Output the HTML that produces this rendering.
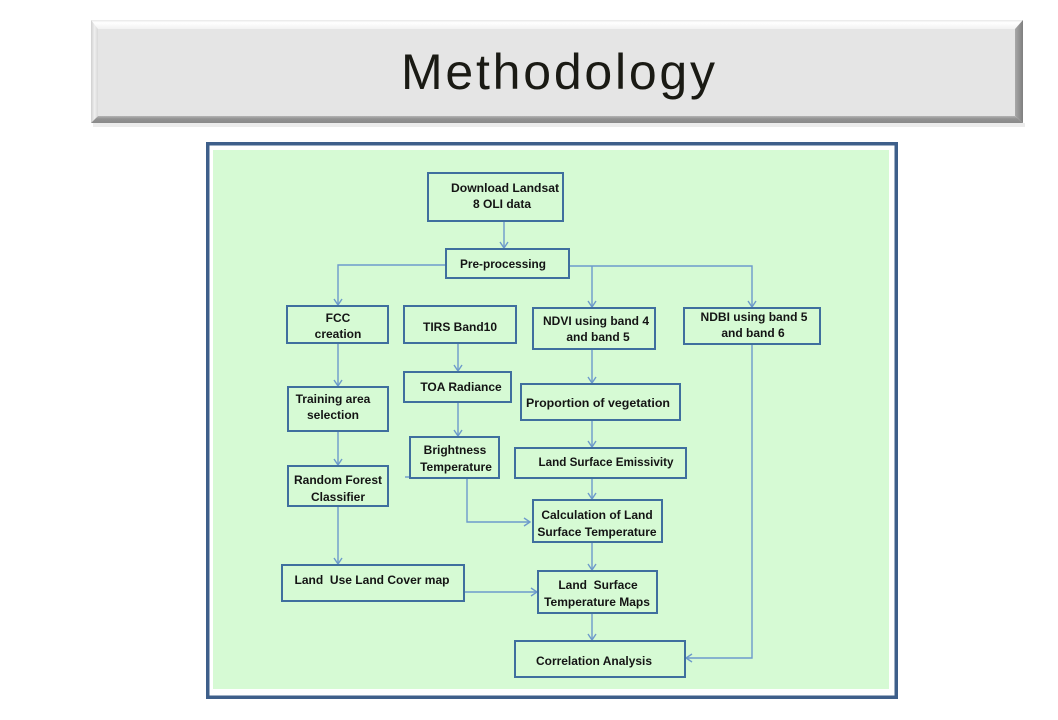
<!DOCTYPE html>
<html>
<head>
<meta charset="utf-8">
<style>
  html, body { margin:0; padding:0; background:#ffffff; }
  body { width:1058px; height:720px; overflow:hidden; }
  svg { display:block; }
  .bx { fill:#d6fad4; stroke:#3f6f9e; stroke-width:2; }
  .cn { fill:none; stroke:#6d9acb; stroke-width:1.4; }
  .t { font-family:"Liberation Sans", Arial, sans-serif; font-weight:bold; font-size:12px; fill:#141414; text-anchor:middle; white-space:pre; }
</style>
</head>
<body>
<svg width="1058" height="720" viewBox="0 0 1058 720" xmlns="http://www.w3.org/2000/svg">
  <defs>
    <linearGradient id="topb" x1="0" y1="0" x2="0" y2="1">
      <stop offset="0" stop-color="#e8e8e8"/>
      <stop offset="0.3" stop-color="#ffffff"/>
      <stop offset="1" stop-color="#f2f2f2"/>
    </linearGradient>
    <linearGradient id="leftb" x1="0" y1="0" x2="1" y2="0">
      <stop offset="0" stop-color="#cfcfcf"/>
      <stop offset="0.5" stop-color="#f0f0f0"/>
      <stop offset="1" stop-color="#d8d8d8"/>
    </linearGradient>
    <linearGradient id="botb" x1="0" y1="0" x2="0" y2="1">
      <stop offset="0" stop-color="#b5b5b5"/>
      <stop offset="0.4" stop-color="#929292"/>
      <stop offset="1" stop-color="#8a8a8a"/>
    </linearGradient>
    <linearGradient id="rightb" x1="0" y1="0" x2="1" y2="0">
      <stop offset="0" stop-color="#a8a8a8"/>
      <stop offset="1" stop-color="#7f7f7f"/>
    </linearGradient>
  </defs>

  <!-- Title bar -->
  <rect x="93" y="123" width="932" height="4" fill="#ececec"/>
  <polygon points="91,20 1023,20 1015,29 98,29" fill="url(#topb)"/>
  <polygon points="91,20 98,29 98,116 91,123" fill="url(#leftb)"/>
  <polygon points="1023,20 1023,123 1015,116 1015,29" fill="url(#rightb)"/>
  <polygon points="91,123 1023,123 1015,116 98,116" fill="url(#botb)"/>
  <rect x="98" y="29" width="917" height="87" fill="#e5e5e5"/>
  <text x="401" y="89" font-family="Liberation Sans, Arial, sans-serif" font-size="50" fill="#1a1a14" textLength="314" lengthAdjust="spacing">Methodology</text>

  <!-- Frame -->
  <rect x="207.75" y="143.75" width="688.5" height="553.5" fill="#ffffff" stroke="#3e5f8a" stroke-width="3.5"/>
  <rect x="213" y="150" width="676" height="539" fill="#d6fad4"/>

  <!-- Connectors -->
  <path class="cn" d="M504,221 V248"/>
  <polyline class="cn" points="500,242 504,248 508,242"/>

  <path class="cn" d="M446,265 H338 V305"/>
  <polyline class="cn" points="334,299 338,305 342,299"/>

  <path class="cn" d="M569,266 H752 V307"/>
  <polyline class="cn" points="748,301 752,307 756,301"/>
  <path class="cn" d="M592,266 V307"/>
  <polyline class="cn" points="588,301 592,307 596,301"/>

  <path class="cn" d="M338,343 V386"/>
  <polyline class="cn" points="334,380 338,386 342,380"/>
  <path class="cn" d="M338,431 V465"/>
  <polyline class="cn" points="334,459 338,465 342,459"/>
  <path class="cn" d="M338,506 V564"/>
  <polyline class="cn" points="334,558 338,564 342,558"/>

  <path class="cn" d="M458,343 V371"/>
  <polyline class="cn" points="454,365 458,371 462,365"/>
  <path class="cn" d="M458,402 V436"/>
  <polyline class="cn" points="454,430 458,436 462,430"/>

  <path class="cn" d="M405,477 H410"/>
  <path class="cn" d="M467,478 V522 H530"/>
  <polyline class="cn" points="524,518 530,522 524,526"/>

  <path class="cn" d="M592,349 V383"/>
  <polyline class="cn" points="588,377 592,383 596,377"/>
  <path class="cn" d="M592,420 V447"/>
  <polyline class="cn" points="588,441 592,447 596,441"/>
  <path class="cn" d="M592,478 V499"/>
  <polyline class="cn" points="588,493 592,499 596,493"/>
  <path class="cn" d="M592,542 V570"/>
  <polyline class="cn" points="588,564 592,570 596,564"/>
  <path class="cn" d="M592,613 V640"/>
  <polyline class="cn" points="588,634 592,640 596,634"/>

  <path class="cn" d="M464,592 H537"/>
  <polyline class="cn" points="531,588 537,592 531,596"/>

  <path class="cn" d="M752,344 V658 H686"/>
  <polyline class="cn" points="692,654 686,658 692,662"/>

  <!-- Boxes -->
  <rect class="bx" x="428" y="173" width="135" height="48"/>
  <text class="t" x="505" y="192" textLength="108" lengthAdjust="spacingAndGlyphs">Download Landsat</text>
  <text class="t" x="502" y="208">8 OLI data</text>

  <rect class="bx" x="446" y="249" width="123" height="29"/>
  <text class="t" x="503" y="268" textLength="86" lengthAdjust="spacingAndGlyphs">Pre-processing</text>

  <rect class="bx" x="287" y="306" width="101" height="37"/>
  <text class="t" x="338" y="322">FCC</text>
  <text class="t" x="338" y="338">creation</text>

  <rect class="bx" x="404" y="306" width="112" height="37"/>
  <text class="t" x="460" y="331">TIRS Band10</text>

  <rect class="bx" x="533" y="308" width="122" height="41"/>
  <text class="t" x="596" y="325">NDVI using band 4</text>
  <text class="t" x="598" y="341">and band 5</text>

  <rect class="bx" x="684" y="308" width="136" height="36"/>
  <text class="t" x="754" y="321" textLength="107" lengthAdjust="spacingAndGlyphs">NDBI using band 5</text>
  <text class="t" x="753" y="337">and band 6</text>

  <rect class="bx" x="521" y="384" width="159" height="36"/>
  <text class="t" x="598" y="407" textLength="144" lengthAdjust="spacingAndGlyphs">Proportion of vegetation</text>

  <rect class="bx" x="288" y="387" width="100" height="44"/>
  <text class="t" x="333" y="403">Training area</text>
  <text class="t" x="333" y="419">selection</text>

  <rect class="bx" x="404" y="372" width="107" height="30"/>
  <text class="t" x="461" y="391">TOA Radiance</text>

  <rect class="bx" x="410" y="437" width="89" height="41"/>
  <text class="t" x="455" y="454">Brightness</text>
  <text class="t" x="456" y="471">Temperature</text>

  <rect class="bx" x="288" y="466" width="100" height="40"/>
  <text class="t" x="338" y="484">Random Forest</text>
  <text class="t" x="338" y="501">Classifier</text>

  <rect class="bx" x="515" y="448" width="171" height="30"/>
  <text class="t" x="606" y="466" textLength="135" lengthAdjust="spacingAndGlyphs">Land Surface Emissivity</text>

  <rect class="bx" x="533" y="500" width="129" height="42"/>
  <text class="t" x="597" y="519">Calculation of Land</text>
  <text class="t" x="597" y="536">Surface Temperature</text>

  <rect class="bx" x="282" y="565" width="182" height="36"/>
  <text class="t" x="372" y="584" textLength="155" lengthAdjust="spacingAndGlyphs">Land  Use Land Cover map</text>

  <rect class="bx" x="538" y="571" width="119" height="42"/>
  <text class="t" x="598" y="589">Land  Surface</text>
  <text class="t" x="597" y="606">Temperature Maps</text>

  <rect class="bx" x="515" y="641" width="170" height="36"/>
  <text class="t" x="594" y="665" textLength="116" lengthAdjust="spacingAndGlyphs">Correlation Analysis</text>
</svg>
</body>
</html>
